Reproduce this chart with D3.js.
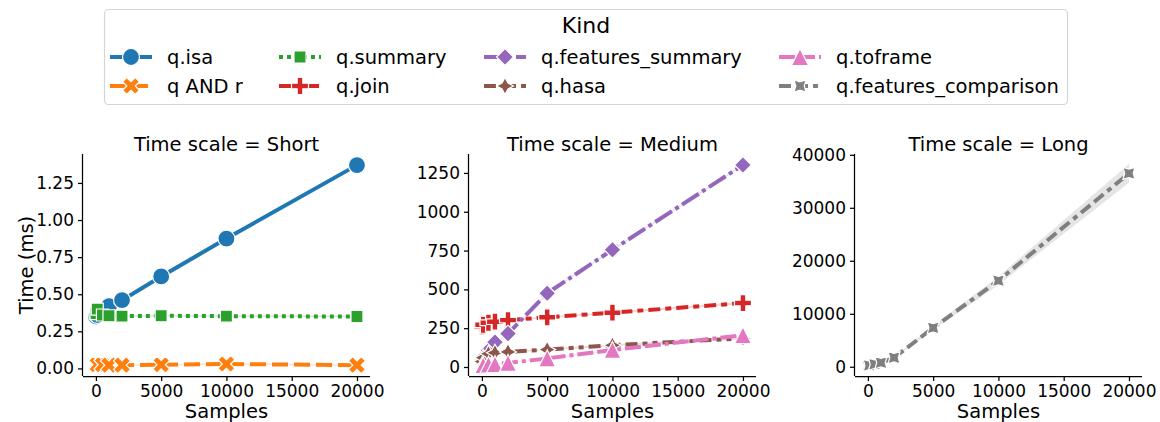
<!DOCTYPE html>
<html>
<head>
<meta charset="utf-8">
<script src="https://cdn.jsdelivr.net/npm/d3@7"></script>
<style>
  html, body { margin: 0; padding: 0; background: #fff; }
  svg text { font-family: "DejaVu Sans", sans-serif; fill: #000; }
</style>
</head>
<body>
<svg id="chart" width="1160" height="422"></svg>
<script>
// Query benchmark timings (ms) by number of samples, faceted by time scale.
const samples = [10, 100, 500, 1000, 2000, 5000, 10000, 20000];

const kinds = ["q.isa", "q AND r", "q.summary", "q.join",
               "q.features_summary", "q.hasa", "q.toframe", "q.features_comparison"];
const kindScale = ["Short", "Short", "Short", "Medium", "Medium", "Medium", "Medium", "Long"];
const timeScales = ["Short", "Medium", "Long"];

// mean times
const isaTimes       = [0.35, 0.36, 0.39, 0.42, 0.46, 0.62, 0.875, 1.37];
const andTimes       = [0.025, 0.025, 0.025, 0.022, 0.022, 0.025, 0.03, 0.022];
const summaryTimes   = [0.37, 0.40, 0.36, 0.355, 0.352, 0.355, 0.352, 0.35];
const joinTimes      = [262, 272, 285, 292, 302, 320, 350, 412];
const featSumTimes   = [40, 60, 105, 160, 215, 475, 755, 1301];
const hasaTimes      = [35, 60, 85, 92, 97, 112, 140, 185];
const toframeTimes   = [10, 12, 15, 18, 26, 55, 110, 205];
const featCompTimes  = [190, 260, 480, 760, 1700, 7350, 16250, 36500];

// half-width of the 95% confidence band
const isaCI      = [0.015, 0.01, 0.01, 0.01, 0.01, 0.01, 0.01, 0.007];
const andCI      = [0.006, 0.006, 0.006, 0.005, 0.005, 0.005, 0.006, 0.005];
const summaryCI  = [0.02, 0.03, 0.01, 0.006, 0.005, 0.005, 0.005, 0.005];
const joinCI     = [8, 8, 6, 5, 5, 6, 6, 8];
const featSumCI  = [5, 5, 5, 5, 5, 6, 6, 6];
const hasaCI     = [5, 5, 5, 5, 5, 5, 6, 6];
const toframeCI  = [3, 3, 3, 3, 3, 4, 5, 6];
const featCompCI = [30, 40, 60, 80, 150, 400, 800, 1750];

const seriesTimes = [isaTimes, andTimes, summaryTimes, joinTimes,
                     featSumTimes, hasaTimes, toframeTimes, featCompTimes];
const seriesCI = [isaCI, andCI, summaryCI, joinCI, featSumCI, hasaCI, toframeCI, featCompCI];

const xTicks = [0, 5000, 10000, 15000, 20000];
const yTicksByScale = {
  Short:  [0, 0.25, 0.5, 0.75, 1.0, 1.25],
  Medium: [0, 250, 500, 750, 1000, 1250],
  Long:   [0, 10000, 20000, 30000, 40000]
};
const yFormatByScale = { Short: d3.format(".2f"), Medium: d3.format("d"), Long: d3.format("d") };

const colors = ["#1f77b4", "#ff7f0e", "#2ca02c", "#d62728",
                "#9467bd", "#8c564b", "#e377c2", "#7f7f7f"];
const markerTypes = ["circle", "x", "square", "plus", "diamond", "star", "triangle", "starRot"];
const dashUnits = [null, [4, 1.5], [1, 1], [3, 1.25, 1.5, 1.25], [5, 1, 1, 1],
                   [3, 1.25, 1.25, 1.25, 1.25, 1.25], [4, 1, 4, 1, 1, 1],
                   [3, 1.25, 3, 1.25, 1.25, 1.25]];

// ---- styling ----
const LW = 4;           // line width
const MS = 17;          // marker size
const MEW = 1.2;        // marker edge width
const panelLeft = [83, 469, 855];
const panelW = 287;
const panelTop = 154, panelBottom = 376;

const svg = d3.select("#chart");

function markerPath(type, s) {
  const h = s / 2;
  const poly = pts => "M" + pts.map(p => p[0].toFixed(2) + "," + p[1].toFixed(2)).join("L") + "Z";
  switch (type) {
    case "circle":
      return `M${h},0A${h},${h} 0 1,1 ${-h},0A${h},${h} 0 1,1 ${h},0Z`;
    case "x": {
      const p = [[-1,-2],[0,-1],[1,-2],[2,-1],[1,0],[2,1],[1,2],[0,1],[-1,2],[-2,1],[-1,0],[-2,-1]];
      return poly(p.map(d => [d[0] / 4 * s, d[1] / 4 * s]));
    }
    case "plus": {
      const p = [[-1,-3],[1,-3],[1,-1],[3,-1],[3,1],[1,1],[1,3],[-1,3],[-1,1],[-3,1],[-3,-1],[-1,-1]];
      return poly(p.map(d => [d[0] / 6 * s, d[1] / 6 * s]));
    }
    case "square": {
      const a = h * Math.SQRT1_2;
      return poly([[-a,-a],[a,-a],[a,a],[-a,a]]);
    }
    case "diamond":
      return poly([[0,-h],[h,0],[0,h],[-h,0]]);
    case "triangle":
      return poly([[0,-h],[-h,h],[h,h]]);
    case "star":
    case "starRot": {
      const rot = type === "starRot" ? Math.PI / 4 : 0;
      const pts = [];
      for (let i = 0; i < 8; i++) {
        const ang = -Math.PI / 2 + i * Math.PI / 4 + rot;
        const r = i % 2 === 0 ? h : h * 0.5;
        pts.push([r * Math.cos(ang), r * Math.sin(ang)]);
      }
      return poly(pts);
    }
  }
}

function dashArray(i) {
  return dashUnits[i] ? dashUnits[i].map(v => v * LW).join(",") : null;
}

// ---- facets ----
timeScales.forEach((scaleName, pi) => {
  const idx = kinds.map((k, i) => i).filter(i => kindScale[i] === scaleName);
  const left = panelLeft[pi];

  // x with 5% margins
  const xMin = d3.min(samples), xMax = d3.max(samples);
  const xPad = (xMax - xMin) * 0.05;
  const x = d3.scaleLinear().domain([xMin - xPad, xMax + xPad]).range([left, left + panelW]);

  // y with 5% margins around the bands
  let lo = Infinity, hi = -Infinity;
  idx.forEach(i => seriesTimes[i].forEach((v, j) => {
    lo = Math.min(lo, v - seriesCI[i][j]);
    hi = Math.max(hi, v + seriesCI[i][j]);
  }));
  const yPad = (hi - lo) * 0.05;
  const y = d3.scaleLinear().domain([lo - yPad, hi + yPad]).range([panelBottom, panelTop]);

  const g = svg.append("g");

  // confidence bands
  idx.forEach(i => {
    const rows = samples.map((s, j) => ({ s, lo: seriesTimes[i][j] - seriesCI[i][j], hi: seriesTimes[i][j] + seriesCI[i][j] }));
    g.append("path")
      .attr("d", d3.area().x(d => x(d.s)).y0(d => y(d.lo)).y1(d => y(d.hi))(rows))
      .attr("fill", colors[i]).attr("fill-opacity", 0.2).attr("stroke", "none");
  });

  // lines + markers
  idx.forEach(i => {
    const rows = samples.map((s, j) => ({ s, v: seriesTimes[i][j] }));
    g.append("path")
      .attr("d", d3.line().x(d => x(d.s)).y(d => y(d.v))(rows))
      .attr("fill", "none").attr("stroke", colors[i]).attr("stroke-width", LW)
      .attr("stroke-dasharray", dashArray(i));
    g.selectAll(null).data(rows).enter().append("path")
      .attr("d", markerPath(markerTypes[i], MS))
      .attr("transform", d => `translate(${x(d.s)},${y(d.v)})`)
      .attr("fill", colors[i]).attr("stroke", "#fff").attr("stroke-width", MEW)
      .attr("stroke-linejoin", "miter");
  });

  // axes
  const xAxis = g.append("g").attr("transform", `translate(0,${panelBottom})`)
    .call(d3.axisBottom(x).tickValues(xTicks).tickFormat(d3.format("d")).tickSizeOuter(0).tickSize(5).tickPadding(4));
  const yAxis = g.append("g").attr("transform", `translate(${left},0)`)
    .call(d3.axisLeft(y).tickValues(yTicksByScale[scaleName]).tickFormat(yFormatByScale[scaleName]).tickSizeOuter(0).tickSize(5).tickPadding(4));
  [xAxis, yAxis].forEach(a => {
    a.select(".domain").attr("stroke", "#000").attr("stroke-width", 1.25);
    a.selectAll(".tick line").attr("stroke", "#000").attr("stroke-width", 1.25);
    a.selectAll(".tick text").attr("font-size", 17).attr("font-family", "DejaVu Sans").attr("fill", "#000");
  });
  xAxis.select(".domain").attr("d", `M${left},0.5H${left + panelW}`);
  yAxis.select(".domain").attr("d", `M-0.5,${panelBottom}V${panelTop}`);

  // facet title and x label
  g.append("text").attr("x", left + panelW / 2).attr("y", 151)
    .attr("text-anchor", "middle").attr("font-size", 19.5)
    .text(`Time scale = ${scaleName}`);
  g.append("text").attr("x", left + panelW / 2).attr("y", 418)
    .attr("text-anchor", "middle").attr("font-size", 19.5)
    .text("Samples");
});

// shared y label
svg.append("text")
  .attr("transform", `translate(33,265) rotate(-90)`)
  .attr("text-anchor", "middle").attr("font-size", 19.5)
  .text("Time (ms)");

// ---- legend ----
const legend = svg.append("g");
legend.append("rect")
  .attr("x", 104.5).attr("y", 9.5).attr("width", 963).attr("height", 95)
  .attr("rx", 4).attr("fill", "#fff").attr("fill-opacity", 0.8)
  .attr("stroke", "#d5d5d5").attr("stroke-width", 1.2);
legend.append("text").attr("x", 586).attr("y", 33)
  .attr("text-anchor", "middle").attr("font-size", 22).text("Kind");

const colCenters = [131, 300, 505, 800];
const rowY = [57, 86];
kinds.forEach((k, i) => {
  const cx = colCenters[Math.floor(i / 2)];
  const cy = rowY[i % 2];
  const item = legend.append("g");
  item.append("line").attr("x1", cx - 21).attr("x2", cx + 21).attr("y1", cy).attr("y2", cy)
    .attr("stroke", colors[i]).attr("stroke-width", LW).attr("stroke-dasharray", dashArray(i));
  item.append("path").attr("d", markerPath(markerTypes[i], MS))
    .attr("transform", `translate(${cx},${cy})`)
    .attr("fill", colors[i]).attr("stroke", "#fff").attr("stroke-width", MEW);
  item.append("text").attr("x", cx + 36).attr("y", cy + 7).attr("font-size", 19.5).text(k);
});
</script>
</body>
</html>
